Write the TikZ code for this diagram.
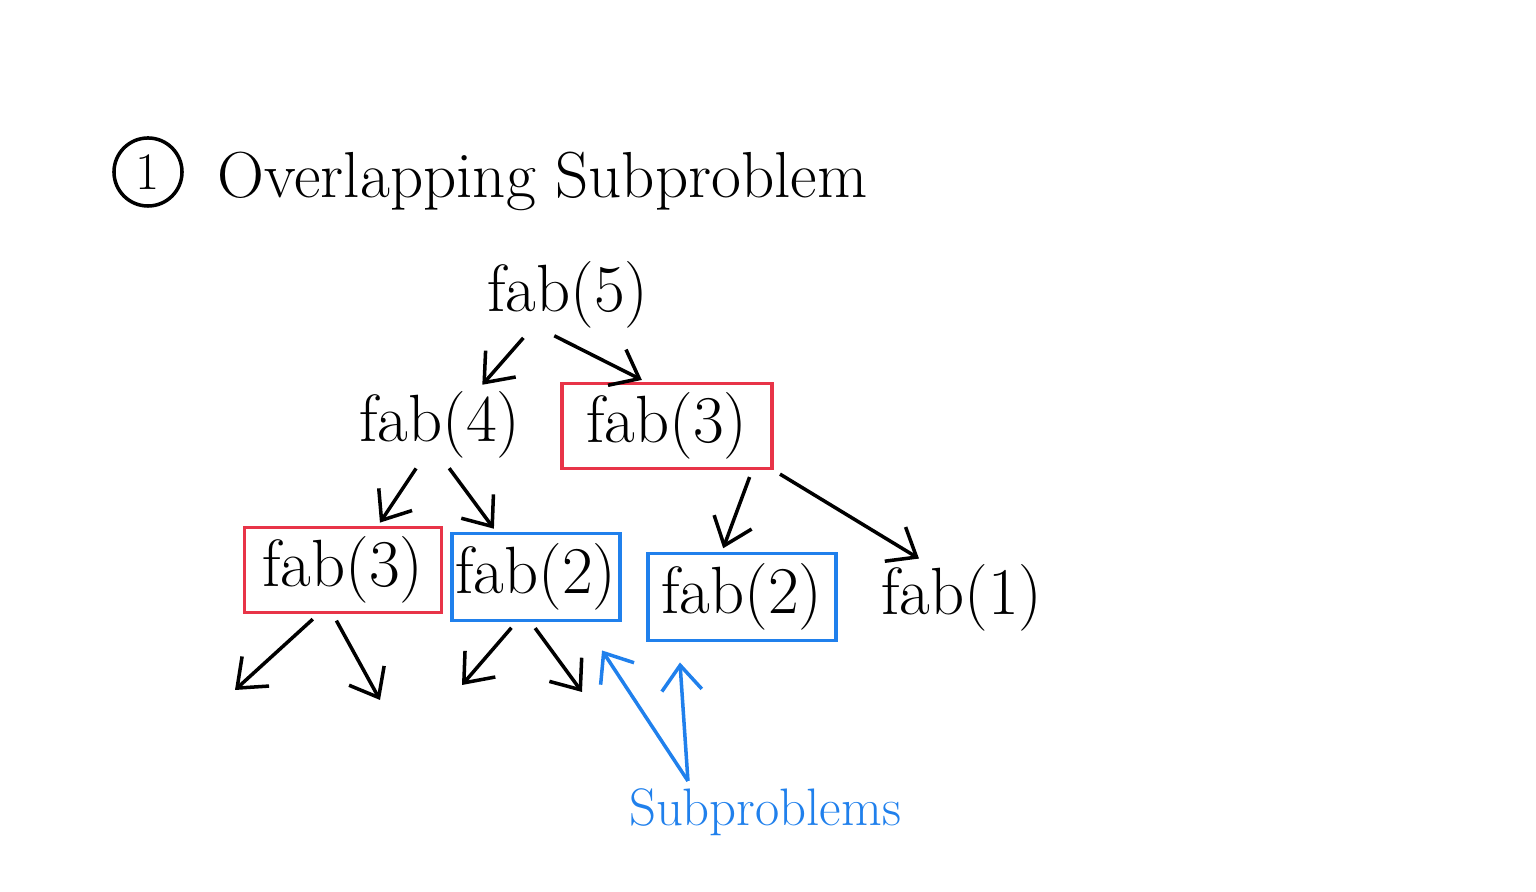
\documentclass[tikz,border=0pt]{standalone}
\usepackage{fontspec}
\usepackage{tikz}
\usetikzlibrary{arrows.meta,positioning,calc}
\definecolor{fabRed}{RGB}{232,52,72}
\definecolor{fabBlue}{RGB}{32,128,236}

\begin{document}
\begin{tikzpicture}[
  x=0.01cm, y=-0.01cm,
  font=\fontsize{19}{21}\selectfont,
  call/.style={inner sep=1pt},
  redbox/.style={
    draw=fabRed,
    line width=1.1pt,
    minimum height=0.85cm
  },
  bluebox/.style={
    draw=fabBlue,
    line width=1.1pt,
    minimum height=0.87cm
  },
  arrow/.style={-{Straight Barb[length=2.5mm,width=4mm]}, line width=1pt, black,
    shorten <=2pt, shorten >=1pt},
  bluearrow/.style={-{Straight Barb[length=2.5mm,width=4mm]}, line width=1pt, fabBlue}
]
\useasboundingbox (0,0) rectangle (1536,892);

% heading
\node[draw, circle, line width=1pt, minimum size=0.68cm, inner sep=0pt,
  font=\fontsize{15}{17}\selectfont] (num) at (148,172) {1};
\node[anchor=base west, inner sep=0pt, font=\fontsize{18.5}{20}\selectfont] (title) at (217,198) {Overlapping Subproblem};

% recursion tree
\node[call] (ffive) at (568,295) {fab(5)};
\node[call] (ffour) at (440,425) {fab(4)};
\node[call, redbox, minimum width=2.1cm] (fthreeR) at (667,426) {fab(3)};
\node[call, redbox, minimum width=1.97cm] (fthreeL) at (343,570) {fab(3)};
\node[call, bluebox, minimum width=1.68cm] (ftwoA) at (536,577) {fab(2)};
\node[call, bluebox, minimum width=1.88cm] (ftwoB) at (742,597) {fab(2)};
\node[call] (fone) at (962,598) {fab(1)};

\coordinate (leafA) at (235,690);
\coordinate (leafB) at (380,700);
\coordinate (leafC) at (462,685);
\coordinate (leafD) at (582,692);

\draw[arrow] ([xshift=-0.4cm]ffive.south) -- ([xshift=0.4cm]ffour.north);
\draw[arrow] ([xshift=-0.2cm]ffive.south) -- ([xshift=-0.22cm]fthreeR.north);
\draw[arrow] ([xshift=-0.2cm]ffour.south) -- ([xshift=0.35cm]fthreeL.north);
\draw[arrow] ([xshift=0.05cm]ffour.south) -- ([xshift=-0.4cm]ftwoA.north);
\draw[arrow] ([xshift=0.85cm]fthreeR.south) -- ([xshift=-0.2cm]ftwoB.north);
\draw[arrow] (fthreeR.south east) -- ([xshift=-0.4cm]fone.north);
\draw[arrow, shorten >=0pt] ([xshift=-0.25cm]fthreeL.south) -- (leafA);
\draw[arrow, shorten >=0pt] ([xshift=-0.1cm]fthreeL.south) -- (leafB);
\draw[arrow, shorten >=0pt] ([xshift=-0.2cm]ftwoA.south) -- (leafC);
\draw[arrow, shorten >=0pt] ([xshift=-0.05cm]ftwoA.south) -- (leafD);

% label
\node[text=fabBlue, font=\fontsize{15}{17}\selectfont] (subp) at (765,812) {Subproblems};
\draw[bluearrow] ([xshift=-0.77cm,yshift=-0.05cm]subp.north) -- ([xshift=-0.2cm,yshift=-0.28cm]ftwoA.south east);
\draw[bluearrow] ([xshift=-0.77cm,yshift=-0.05cm]subp.north) -- ([xshift=-0.62cm,yshift=-0.2cm]ftwoB.south);

\end{tikzpicture}
\end{document}
